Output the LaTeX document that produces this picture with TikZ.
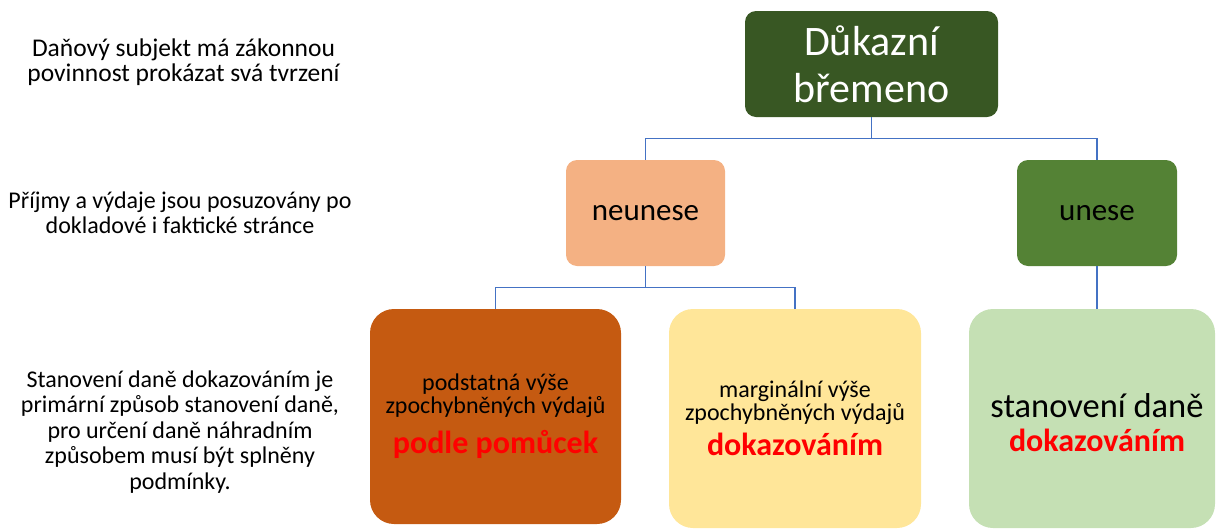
\documentclass[tikz,border=0pt]{standalone}
\usepackage{fontspec}
\setmainfont{Carlito}
\definecolor{topgreen}{RGB}{56,87,35}
\definecolor{salmon}{RGB}{244,177,131}
\definecolor{midgreen}{RGB}{84,130,53}
\definecolor{rust}{RGB}{197,90,17}
\definecolor{paleyellow}{RGB}{255,230,153}
\definecolor{palegreen}{RGB}{197,224,180}
\definecolor{linkblue}{RGB}{68,114,196}
\definecolor{hotred}{RGB}{255,0,0}
\begin{document}
\begin{tikzpicture}[x=1pt,y=-1pt,
  smallbox/.style={rounded corners=11pt, inner sep=0pt, align=center,
    minimum width=159pt, minimum height=106pt, font=\fontsize{31}{37}\selectfont},
  bigbox/.style={rounded corners=24pt, inner sep=0pt, align=center,
    font=\fontsize{24}{23}\selectfont},
  conn/.style={draw=linkblue, line width=1.1pt},
  side/.style={align=center, font=\fontsize{24}{25.5}\selectfont, inner sep=0pt}]
\useasboundingbox (0,0) rectangle (1216,528);

\node[smallbox, fill=topgreen, minimum width=253pt, minimum height=106pt,
  text=white, font=\fontsize{42}{47}\selectfont] (top) at (871.5,64) {Důkazní\\břemeno};
\node[smallbox, fill=salmon] (neu) at (645.5,213) {neunese};
\node[smallbox, fill=midgreen, minimum width=160pt] (une) at (1097,213) {unese};

\node[bigbox, fill=rust, minimum width=251pt, minimum height=215pt] (pod) at (495.5,416.5)
  {podstatná výše\\zpochybněných výdajů\\[12pt]\textcolor{hotred}{\fontsize{32}{36}\selectfont\bfseries podle pomůcek}};
\node[bigbox, fill=paleyellow, minimum width=252pt, minimum height=219pt] (mar) at (795,418.5)
  {marginální výše\\zpochybněných výdajů\\[7pt]\textcolor{hotred}{\fontsize{32}{36}\selectfont\bfseries dokazováním}};
\node[bigbox, fill=palegreen, minimum width=246pt, minimum height=219pt] (sta) at (1092,418.5) {};
\node[align=center, inner sep=0pt, font=\fontsize{34.5}{34}\selectfont] (staT) at ([xshift=5pt,yshift=-4.5pt]sta.center)
  {stanovení daně\\\textcolor{hotred}{\fontsize{32}{34}\selectfont\bfseries dokazováním}};

\draw[conn] (top.south) -- ++(0,21) coordinate (j1) -| (neu.north);
\draw[conn] (j1) -| (une.north);
\draw[conn] (neu.south) -- ++(0,21) coordinate (j2) -| (pod.north);
\draw[conn] (j2) -| (mar.north);
\draw[conn] (une.south) -- (une.south |- sta.north);

\node[side, font=\fontsize{25.5}{25.5}\selectfont] (t1) at (183.5,62) {Daňový subjekt má zákonnou\\povinnost prokázat svá tvrzení};
\node[side] (t2) at (180,213) {Příjmy a výdaje jsou posuzovány po\\dokladové i faktické stránce};
\node[side] (t3) at (180,432) {Stanovení daně dokazováním je\\primární způsob stanovení daně,\\pro určení daně náhradním\\způsobem musí být splněny\\podmínky.};
\end{tikzpicture}
\end{document}
